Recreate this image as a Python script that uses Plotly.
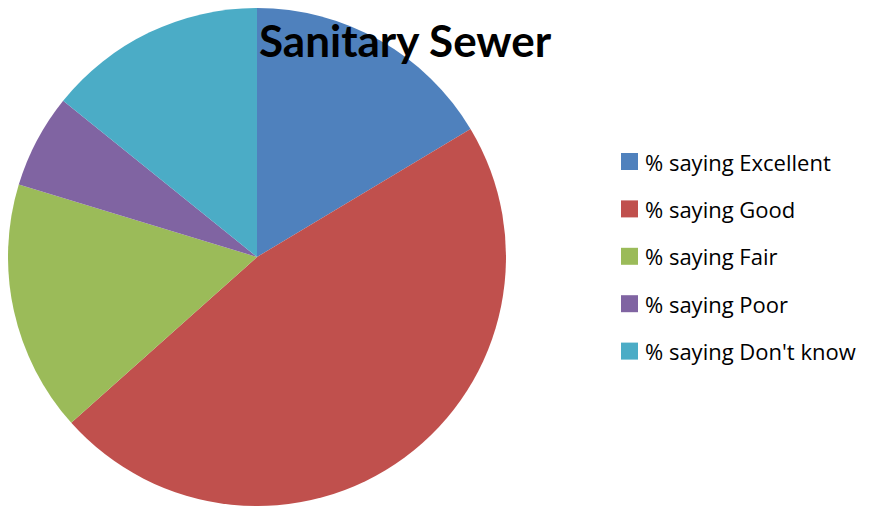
import plotly.graph_objects as go

labels = ["% saying Excellent", "% saying Good", "% saying Fair", "% saying Poor", "% saying Don't know"]
values = [16.4, 47.0, 16.3, 6.1, 14.2]
colors = ["#4F81BD", "#C0504D", "#9BBB59", "#8064A2", "#4BACC6"]

# page has an 8px body margin; figure coords = page coords - 8
W, H = 862, 498
OFF = 8
def px(x): return (x - OFF) / W
def py(y): return 1 - (y - OFF) / H

fig = go.Figure()
fig.add_trace(go.Pie(
    labels=labels, values=values, sort=False, direction="clockwise", rotation=0,
    marker=dict(colors=colors, line=dict(width=0)),
    textinfo="none", hoverinfo="label+value",
    domain=dict(x=[px(8), px(506)], y=[0, 1]),
    showlegend=False,
))

LFONT = "Open Sans, Lato, sans-serif"
row0, step = 161.5, 47.4
for i, (lab, col) in enumerate(zip(labels, colors)):
    yc = row0 + i * step
    fig.add_shape(type="rect", xref="paper", yref="paper",
                  x0=px(621), x1=px(638), y0=py(yc + 8.5), y1=py(yc - 8.5),
                  fillcolor=col, line=dict(width=0))
    fig.add_annotation(text=lab, xref="paper", yref="paper", x=px(643), y=py(yc),
                       xanchor="left", yanchor="middle", showarrow=False,
                       font=dict(family=LFONT, size=22, color="#000000"))

fig.add_annotation(text="<b>Sanitary Sewer</b>", xref="paper", yref="paper",
                   x=px(405), y=py(40), xanchor="center", yanchor="middle",
                   showarrow=False, font=dict(family="Lato, sans-serif", size=44, color="#000000"))

fig.update_layout(width=W, height=H, margin=dict(l=0, r=0, t=0, b=0),
                  paper_bgcolor="white", plot_bgcolor="white", showlegend=False)
fig.write_html("out.html")
